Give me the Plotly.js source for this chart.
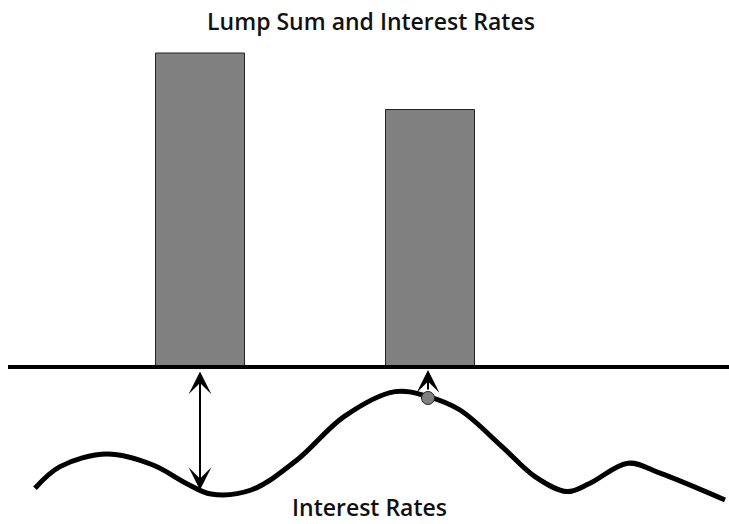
<!DOCTYPE html>
<html>
<head>
<meta charset="utf-8">
<script src="https://cdn.plot.ly/plotly-3.0.1.min.js"></script>
<style>html,body{margin:0;padding:0;background:#fff;}#chart{width:729px;height:524px;}</style>
</head>
<body>
<div id="chart"></div>
<script>
// Lump sum bars
const barX = [200, 430];
const lumpSum = [100, 82];

// Interest-rate curve (time, rate)
const rateX = [35, 60, 107, 153, 186, 211, 251, 297, 344, 395, 428, 460, 502, 535, 567, 590, 628, 660, 725];
const rateY = [1.79, 2.87, 3.5, 2.95, 2.04, 1.5, 1.7, 3.2, 5.37, 6.62, 6.37, 5.7, 3.87, 2.37, 1.62, 2.04, 3.04, 2.54, 1.2];

// Highlighted point on the curve
const pointX = [428];
const pointY = [6.3];

// Arrow ends (rate-axis units)
const baselineRate = 7.7;
const arrow1 = {x: 200, from: 1.7};
const arrow2 = {x: 428, from: 6.65};

const titleText = 'Lump Sum and Interest Rates';
const curveLabel = 'Interest Rates';

const font = {family: 'Open Sans, sans-serif', size: 23, color: '#111', weight: 600};

const traces = [
  {
    type: 'bar', x: barX, y: lumpSum, width: 89,
    marker: {color: '#808080', line: {color: '#222', width: 1}},
    hoverinfo: 'none'
  },
  {
    type: 'scatter', mode: 'lines', x: rateX, y: rateY, yaxis: 'y2',
    line: {color: '#000', width: 5, shape: 'spline', smoothing: 1},
    hoverinfo: 'none'
  },
  {
    type: 'scatter', mode: 'markers', x: pointX, y: pointY, yaxis: 'y2',
    marker: {color: '#808080', size: 13, line: {color: '#222', width: 1}},
    hoverinfo: 'none'
  }
];

const layout = {
  width: 729, height: 524,
  margin: {l: 0, r: 0, t: 0, b: 0},
  paper_bgcolor: '#fff', plot_bgcolor: '#fff',
  showlegend: false,
  title: {text: titleText, font: font, x: 371/729, xref: 'container', xanchor: 'center',
          y: 1 - 22/524, yref: 'container', yanchor: 'middle'},
  xaxis: {range: [0, 729], visible: false, fixedrange: true},
  yaxis: {range: [-50, 116.88], visible: false, fixedrange: true},
  yaxis2: {range: [0, 26.2], visible: false, overlaying: 'y', fixedrange: true},
  shapes: [
    {type: 'line', xref: 'x', yref: 'y', x0: 8, x1: 729, y0: 0, y1: 0,
     line: {color: '#000', width: 4}}
  ],
  annotations: [
    {x: arrow1.x, y: arrow1.from, xref: 'x', yref: 'y2', ax: arrow1.x, ay: baselineRate,
     axref: 'x', ayref: 'y2', showarrow: true, arrowhead: 3, startarrowhead: 3,
     arrowside: 'end+start', arrowwidth: 2, arrowsize: 1.9, startarrowsize: 1.9,
     arrowcolor: '#000', text: ''},
    {x: arrow2.x, y: baselineRate, xref: 'x', yref: 'y2', ax: arrow2.x, ay: arrow2.from,
     axref: 'x', ayref: 'y2', showarrow: true, arrowhead: 3, arrowside: 'end',
     arrowwidth: 2, arrowsize: 1.9, arrowcolor: '#000', text: ''},
    {x: 369/729, y: 1 - 507/524, xref: 'paper', yref: 'paper', text: curveLabel,
     showarrow: false, font: font, xanchor: 'center', yanchor: 'middle'}
  ]
};

Plotly.newPlot('chart', traces, layout, {displayModeBar: false, staticPlot: true});
</script>
</body>
</html>
